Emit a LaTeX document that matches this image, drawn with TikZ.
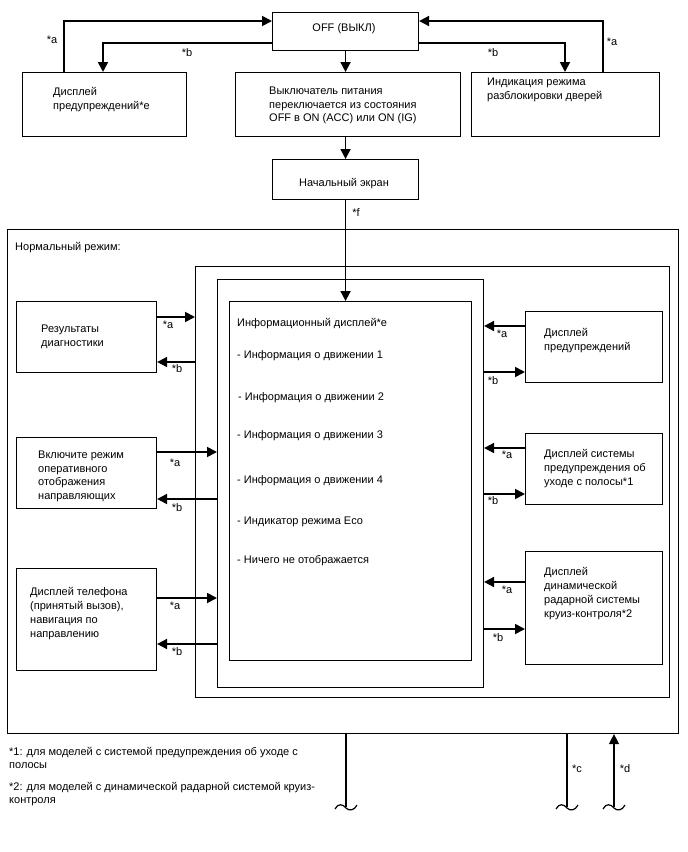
\documentclass[tikz,border=0pt]{standalone}
\usepackage{fontspec}
\setmainfont{Liberation Sans}
\usetikzlibrary{arrows.meta}
\tikzset{
  box/.style={draw, line width=1.1pt, inner sep=0pt, anchor=north west},
  conn/.style={line width=1.8pt, -{Triangle[length=10pt,width=10pt]}},
  thinline/.style={line width=1.3pt},
  thinconn/.style={line width=1.3pt, -{Triangle[length=10pt,width=10pt]}},
  txt/.style={inner sep=0pt, anchor=north west, align=left,
    font=\fontsize{11}{13.8}\selectfont, execute at begin node={\rule{0pt}{8.5pt}}},
  line1/.style={inner sep=0pt, anchor=base west, font=\fontsize{11}{13.8}\selectfont},
  lbl/.style={inner sep=0pt, anchor=base, font=\fontsize{11}{12}\selectfont},
  tilde/.style={line width=1.2pt}
}
\begin{document}
\begin{tikzpicture}[x=1pt,y=-1pt]
\useasboundingbox (0,0) rectangle (688,852);

% top boxes
\node[box, minimum width=146pt, minimum height=38pt] (off) at (272,12) {};
\node[box, minimum width=164pt, minimum height=64pt] (warn1) at (22,72) {};
\node[box, minimum width=225pt, minimum height=64pt] (power) at (235,72) {};
\node[box, minimum width=188pt, minimum height=64pt] (unlock) at (471,72) {};
\node[box, minimum width=146pt, minimum height=40pt] (start) at (272,159) {};

\node[lbl] (offtxt) at (344,31) {OFF (ВЫКЛ)};
\node[txt] (warn1txt) at (53,87.5) {Дисплей\\предупреждений*e};
\node[txt] (powertxt) at (269,86.5) {Выключатель питания\\переключается из состояния\\OFF в ON (ACC) или ON (IG)};
\node[txt] (unlocktxt) at (487,77.5) {Индикация режима\\разблокировки дверей};
\node[lbl] (starttxt) at (344,186) {Начальный экран};

% frames
\node[box, minimum width=671pt, minimum height=504pt] (big) at (7,229) {};
\node[box, minimum width=474pt, minimum height=431pt] (frame2) at (195,266) {};
\node[box, minimum width=266pt, minimum height=408pt] (frame3) at (217,279) {};
\node[box, minimum width=242pt, minimum height=359pt] (info) at (229,301) {};
\node[line1] (normal) at (15,250) {Нормальный режим:};

% info texts
\node[line1] (i0) at (237,326) {Информационный дисплей*e};
\node[line1] (i1) at (237,358) {- Информация о движении 1};
\node[line1] (i2) at (238,400) {- Информация о движении 2};
\node[line1] (i3) at (237,438) {- Информация о движении 3};
\node[line1] (i4) at (237,483) {- Информация о движении 4};
\node[line1] (i5) at (237,524) {- Индикатор режима Eco};
\node[line1] (i6) at (237,563) {- Ничего не отображается};

% left boxes
\node[box, minimum width=140pt, minimum height=71pt] (diag) at (16,301) {};
\node[box, minimum width=140pt, minimum height=71pt] (guide) at (16,437) {};
\node[box, minimum width=140pt, minimum height=102pt] (phone) at (16,568) {};
\node[txt] (diagtxt) at (41,324.5) {Результаты\\диагностики};
\node[txt] (guidetxt) at (38,450.5) {Включите режим\\оперативного\\отображения\\направляющих};
\node[txt] (phonetxt) at (30,587.5) {Дисплей телефона\\(принятый вызов),\\навигация по\\направлению};

% right boxes
\node[box, minimum width=137pt, minimum height=71pt] (warn2) at (525,311) {};
\node[box, minimum width=137pt, minimum height=71pt] (lane) at (525,433) {};
\node[box, minimum width=137pt, minimum height=113pt] (radar) at (525,551) {};
\node[txt] (warn2txt) at (544,328.5) {Дисплей\\предупреждений};
\node[txt] (lanetxt) at (544,449.5) {Дисплей системы\\предупреждения об\\уходе с полосы*1};
\node[txt] (radartxt) at (544,567.5) {Дисплей\\динамической\\радарной системы\\круиз-контроля*2};

% top connectors
\draw[conn] (warn1.north -| 64,0) |- (off.west |- 0,21);
\draw[conn] (off.west |- 0,43) -| (warn1.north -| 103,0);
\draw[conn] (off.south) -- (off.south |- power.north);
\draw[conn] (unlock.north -| 603,0) |- (off.east |- 0,21);
\draw[conn] (off.east |- 0,43) -| (unlock.north -| 565,0);
\draw[conn] (off.south |- power.south) -- (start.north);
\draw[conn] (start.south) -- (start.south |- info.north);

\node[lbl] (la1) at (52,43) {*a};
\node[lbl] (lb1) at (187,56) {*b};
\node[lbl] (lb2) at (493,56) {*b};
\node[lbl] (la2) at (612,45) {*a};
\node[lbl] (lf) at (356,216) {*f};

% left connectors
\draw[conn] (diag.east |- 0,317) -- (frame2.west |- 0,317);
\draw[conn] (frame2.west |- 0,362) -- (diag.east |- 0,362);
\draw[conn] (guide.east |- 0,452) -- (frame3.west |- 0,452);
\draw[conn] (frame3.west |- 0,499) -- (guide.east |- 0,499);
\draw[conn] (phone.east |- 0,598) -- (frame3.west |- 0,598);
\draw[conn] (frame3.west |- 0,644) -- (phone.east |- 0,644);

\node[lbl] (da) at (168,328) {*a};
\node[lbl] (db) at (177,372) {*b};
\node[lbl] (ga) at (175,466) {*a};
\node[lbl] (gb) at (177,511) {*b};
\node[lbl] (pa) at (175,609) {*a};
\node[lbl] (pb) at (177,655) {*b};

% right connectors
\draw[conn] (warn2.west |- 0,326) -- (frame3.east |- 0,326);
\draw[conn] (frame3.east |- 0,372) -- (warn2.west |- 0,372);
\draw[conn] (lane.west |- 0,448) -- (frame3.east |- 0,448);
\draw[conn] (frame3.east |- 0,494) -- (lane.west |- 0,494);
\draw[conn] (radar.west |- 0,582) -- (frame3.east |- 0,582);
\draw[conn] (frame3.east |- 0,629) -- (radar.west |- 0,629);

\node[lbl] (wa) at (502,337) {*a};
\node[lbl] (wb) at (493,384) {*b};
\node[lbl] (na) at (507,458) {*a};
\node[lbl] (nb) at (493,504) {*b};
\node[lbl] (ra) at (507,593) {*a};
\node[lbl] (rb) at (498,641) {*b};

% bottom
\coordinate (e1) at (346,807);
\coordinate (ec) at (567,807);
\coordinate (ed) at (614,807);
\draw[thinline] (big.south -| e1) -- (e1);
\draw[thinline] (big.south -| ec) -- (ec);
\draw[thinconn] (ed) -- (big.south -| ed);
\foreach \p in {e1,ec,ed}{
  \draw[tilde] ([shift={(-11pt,-2pt)}]\p) .. controls ([shift={(-8pt,4pt)}]\p) and ([shift={(-3pt,3pt)}]\p) .. ([shift={(0pt,-1pt)}]\p)
     .. controls ([shift={(3pt,-4pt)}]\p) and ([shift={(8pt,-4pt)}]\p) .. ([shift={(11pt,2pt)}]\p);
}
\node[lbl] (lc) at (577,772) {*c};
\node[lbl] (ld) at (625,772) {*d};

\node[txt, font=\fontsize{11}{12.5}\selectfont] (fn1) at (9,747.5) {*1: для моделей с системой предупреждения об уходе с\\полосы};
\node[txt, font=\fontsize{11}{12.5}\selectfont] (fn2) at (9,782.5) {*2: для моделей с динамической радарной системой круиз-\\контроля};
\end{tikzpicture}
\end{document}
